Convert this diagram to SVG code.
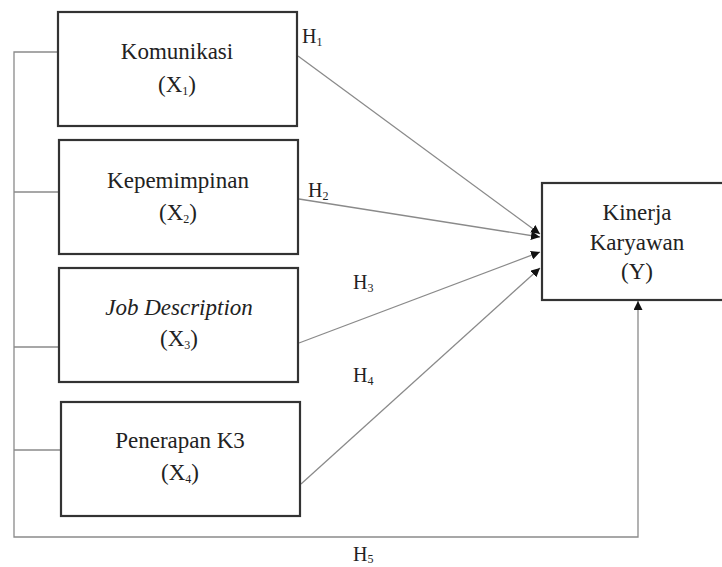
<svg xmlns="http://www.w3.org/2000/svg" width="722" height="567" viewBox="0 0 722 567" font-family="'Liberation Serif', 'DejaVu Serif', serif">
<style>
text{font-family:'Liberation Serif','DejaVu Serif',serif}
.box{fill:#fff;stroke:#333;stroke-width:2.2}
.t{font-size:23px;fill:#222;text-anchor:middle}
.h{font-size:20px;fill:#222}
.sub{font-size:12px}
.c{fill:none;stroke:#8a8a8a;stroke-width:1.3}
</style>
<defs>
<marker id="ah" viewBox="0 0 10 10" refX="10" refY="5" markerWidth="9" markerHeight="9" markerUnits="userSpaceOnUse" orient="auto">
<path d="M0,0 L10,5 L0,10 z" fill="#111"/>
</marker>
</defs>
<rect width="722" height="567" fill="#fff"/>
<g id="connectors">
<path class="c" d="M58,52 H14 V537 H638 V301" marker-end="url(#ah)"/>
<path class="c" d="M14,192 H59"/>
<path class="c" d="M14,347 H59"/>
<path class="c" d="M14,450 H61"/>
<path class="c" d="M298,56 L540,234" marker-end="url(#ah)"/>
<path class="c" d="M299,199 L540,237" marker-end="url(#ah)"/>
<path class="c" d="M299,343 L540,252" marker-end="url(#ah)"/>
<path class="c" d="M301,484 L540,268" marker-end="url(#ah)"/>
</g>
<g id="labels">
<text class="h" x="302" y="43">H<tspan class="sub" dy="3">1</tspan></text>
<text class="h" x="308" y="197">H<tspan class="sub" dy="3">2</tspan></text>
<text class="h" x="353" y="289">H<tspan class="sub" dy="3">3</tspan></text>
<text class="h" x="353" y="382">H<tspan class="sub" dy="3">4</tspan></text>
<text class="h" x="353" y="561">H<tspan class="sub" dy="2">5</tspan></text>
</g>
<g id="x1">
<rect class="box" x="58" y="12" width="239" height="114"/>
<text class="t" x="177" y="59">Komunikasi</text>
<text class="t" x="177" y="92">(X<tspan class="sub" dy="3">1</tspan><tspan dy="-3">)</tspan></text>
</g>
<g id="x2">
<rect class="box" x="59" y="140" width="239" height="114"/>
<text class="t" x="178" y="188">Kepemimpinan</text>
<text class="t" x="178" y="220">(X<tspan class="sub" dy="3">2</tspan><tspan dy="-3">)</tspan></text>
</g>
<g id="x3">
<rect class="box" x="59" y="268" width="239" height="114"/>
<text class="t" x="179" y="315" font-style="italic">Job Description</text>
<text class="t" x="179" y="346">(X<tspan class="sub" dy="3">3</tspan><tspan dy="-3">)</tspan></text>
</g>
<g id="x4">
<rect class="box" x="61" y="402" width="239" height="114"/>
<text class="t" x="180" y="448">Penerapan K3</text>
<text class="t" x="180" y="480">(X<tspan class="sub" dy="3">4</tspan><tspan dy="-3">)</tspan></text>
</g>
<g id="y">
<rect class="box" x="542" y="183" width="190" height="117"/>
<text class="t" x="637" y="220">Kinerja</text>
<text class="t" x="637" y="250">Karyawan</text>
<text class="t" x="637" y="279">(Y)</text>
</g>
</svg>
